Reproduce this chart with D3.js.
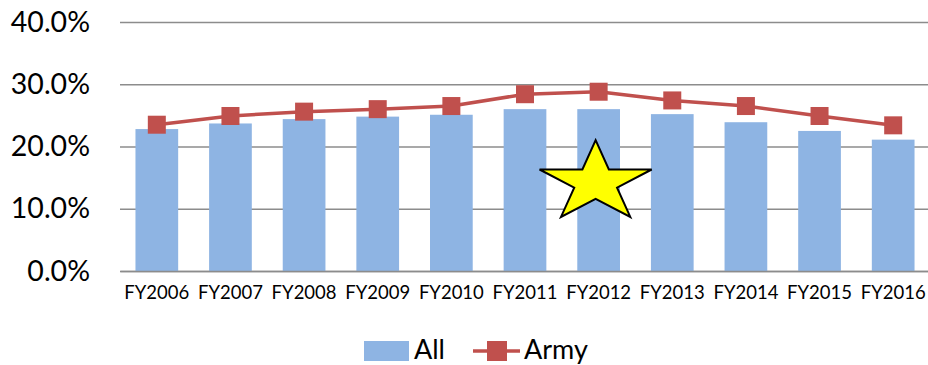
<!DOCTYPE html>
<html>
<head>
<meta charset="utf-8">
<script src="https://cdn.jsdelivr.net/npm/d3@7"></script>
<style>
  body { margin: 0; background: #fff; }
  svg { display: block; }
</style>
</head>
<body>
<div id="chart"></div>
<script>
const years = ["FY2006", "FY2007", "FY2008", "FY2009", "FY2010", "FY2011", "FY2012", "FY2013", "FY2014", "FY2015", "FY2016"];
const allValues = [0.228, 0.237, 0.244, 0.248, 0.251, 0.260, 0.260, 0.252, 0.239, 0.225, 0.211];
const armyValues = [0.235, 0.249, 0.256, 0.260, 0.265, 0.284, 0.288, 0.274, 0.265, 0.249, 0.234];
const yTicks = [0, 0.1, 0.2, 0.3, 0.4];
const seriesNames = ["All", "Army"];
// star annotation sits on FY2012 at about 14%
const starAt = {year: "FY2012", value: 0.142};

const width = 928;
const height = 365;
const margin = {top: 22, right: -2, bottom: 94, left: 120};
const font = "Lato, 'Open Sans', sans-serif";
const blue = "#8EB4E3";
const red = "#C0504D";

const svg = d3.select("#chart").append("svg")
    .attr("width", width)
    .attr("height", height)
    .attr("viewBox", [0, 0, width, height])
    .attr("font-family", font);

const x = d3.scaleBand()
    .domain(years)
    .range([margin.left, width - margin.right])
    .paddingInner(0.42)
    .paddingOuter(0.21);

const y = d3.scaleLinear()
    .domain([0, 0.4])
    .range([height - margin.bottom, margin.top]);

// gridlines + y labels
const yAxis = d3.axisLeft(y)
    .tickValues(yTicks)
    .tickFormat(d3.format(".1%"))
    .tickSize(-(width - margin.right - margin.left))
    .tickPadding(30);

svg.append("g")
    .attr("transform", `translate(${margin.left},0)`)
    .call(yAxis)
    .attr("font-family", font)
    .call(g => g.select(".domain").remove())
    .call(g => g.selectAll(".tick line")
        .attr("stroke", "#8c8c8c")
        .attr("stroke-width", 1.3))
    .call(g => g.selectAll(".tick text")
        .attr("fill", "#000")
        .attr("font-size", 28.5));

// bars
svg.append("g")
    .selectAll("rect")
    .data(years)
    .join("rect")
    .attr("x", d => x(d))
    .attr("y", (d, i) => y(allValues[i]))
    .attr("width", x.bandwidth())
    .attr("height", (d, i) => y(0) - y(allValues[i]))
    .attr("fill", blue);

// x labels
const xAxis = d3.axisBottom(x).tickSize(0).tickPadding(15);
svg.append("g")
    .attr("transform", `translate(0,${y(0)})`)
    .call(xAxis)
    .attr("font-family", font)
    .call(g => g.select(".domain").attr("stroke", "#8c8c8c").attr("stroke-width", 1.3))
    .call(g => g.selectAll(".tick text")
        .attr("fill", "#000")
        .attr("font-size", 18.5));

// army line
const cx = d => x(d) + x.bandwidth() / 2;
const line = d3.line()
    .x((d, i) => cx(years[i]))
    .y(d => y(d));

svg.append("path")
    .attr("d", line(armyValues))
    .attr("fill", "none")
    .attr("stroke", red)
    .attr("stroke-width", 3.5)
    .attr("stroke-linejoin", "round");

const mk = 18;
svg.append("g")
    .selectAll("rect")
    .data(armyValues)
    .join("rect")
    .attr("x", (d, i) => cx(years[i]) - mk / 2)
    .attr("y", d => y(d) - mk / 2)
    .attr("width", mk)
    .attr("height", mk)
    .attr("fill", red);

// star
const R = 42.4, stretch = 1.39, inner = 0.382;
const starPts = d3.range(10).map(k => {
    const a = k * Math.PI / 5;
    const r = k % 2 ? R * inner : R;
    return [Math.sin(a) * r * stretch, -Math.cos(a) * r];
});
svg.append("polygon")
    .attr("transform", `translate(${cx(starAt.year) - 3},${y(starAt.value)})`)
    .attr("points", starPts.map(p => p.join(",")).join(" "))
    .attr("fill", "#FFFF00")
    .attr("stroke", "#000")
    .attr("stroke-width", 2)
    .attr("stroke-linejoin", "miter");

// legend
const legend = svg.append("g").attr("transform", "translate(364,351)");
legend.append("rect")
    .attr("x", 0).attr("y", -10)
    .attr("width", 45).attr("height", 20)
    .attr("fill", blue);
legend.append("text")
    .attr("x", 50).attr("y", 8)
    .attr("font-size", 27)
    .text(seriesNames[0]);
legend.append("line")
    .attr("x1", 109).attr("x2", 156)
    .attr("y1", 0).attr("y2", 0)
    .attr("stroke", red).attr("stroke-width", 3.5);
legend.append("rect")
    .attr("x", 123).attr("y", -10)
    .attr("width", 20).attr("height", 20)
    .attr("fill", red);
legend.append("text")
    .attr("x", 160).attr("y", 8)
    .attr("font-size", 27)
    .text(seriesNames[1]);
</script>
</body>
</html>
